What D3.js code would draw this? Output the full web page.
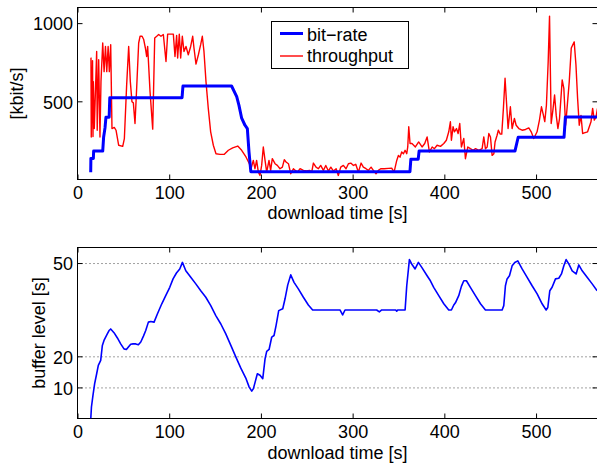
<!DOCTYPE html>
<html>
<head>
<meta charset="utf-8">
<script src="https://cdn.jsdelivr.net/npm/d3@7"></script>
<style>
  body { margin: 0; background: #fff; }
  svg text { font-family: "Liberation Sans", Arial, Helvetica, sans-serif; font-size: 18px; fill: #000; }
  .tk line { stroke: #000; }
  .tk path { display: none; }
  .grid line { stroke: #444; stroke-dasharray: 1,3; }
  .grid path { display: none; }
</style>
</head>
<body>
<svg id="chart" width="597" height="465"></svg>
<script>
// time axis shared by both panels
var xTicks = [0, 100, 200, 300, 400, 500];
var rateTicks = [500, 1000];
var bufTicks = [10, 20, 50];

// selected bit-rate [kbit/s]
var rateTime = [14.4, 14.6, 17.3, 17.6, 27.5, 28.5, 30, 31, 34.5, 35.2, 114, 115, 168, 173.6, 176, 179, 182.6, 185.2, 187, 189,
	362.5, 363.5, 371.5, 372.5, 477, 480.5, 530.5, 532, 567];
var rateKbps = [47, 135, 135, 182, 182, 272, 330, 398, 398, 523, 523, 598, 598, 530, 476, 392, 347, 326, 176, 50,
	50, 130, 130, 182, 182, 270, 270, 400, 400];

// measured throughput [kbit/s]
var tputTime = [14.4, 14.7, 15.0, 16.4, 16.9, 17.3, 18.3, 20.9, 21.5, 23.1, 24.5, 25.6, 27.5, 29.0, 30.5, 31.9, 33.4, 34.7, 36.2, 37.6,
	40.1, 42.0, 44.9, 49.3, 51.1, 53.6, 55.8, 57.6, 59.4, 60.9, 62.7, 64.5, 66.7, 68.2, 70.4, 72.2, 74.0, 75.4, 76.5, 79.1,
	82.0, 84.2, 86.4, 88.5, 91.0, 93.6, 96.5, 98.3, 101.9, 104.5, 106.3, 108.1, 109.2, 111.0, 112.5, 114.3, 116.1, 118.3, 120.8, 123.4,
	125.6, 127.0, 129.2, 131.8, 134.3, 136.1, 137.9, 140.1, 142.6, 145.2, 148.1, 151.0, 155.4, 160.1, 164.5, 169.2, 174.7, 179.0, 183.7, 187.4,
	189.2, 191.7, 193.5, 195.3, 197.2, 199.0, 200.8, 202.6, 204.5, 206.3, 208.8, 210.6, 212.4, 215.4, 217.9, 220.8, 223.4, 225.5, 227.4, 230.0,
	232.5, 235.4, 237.6, 239.8, 242.7, 246.3, 250.0, 252.9, 255.4, 257.2, 260.1, 262.7, 265.2, 268.1, 270.7, 273.6, 276.2, 279.1, 282.0, 284.4,
	287.0, 289.9, 292.8, 295.4, 298.0, 300.9, 303.4, 306.3, 309.2, 311.7, 314.6, 317.2, 320.1, 322.6, 325.5, 328.1, 330.6, 334.3, 339.0, 342.6,
	345.2, 348.1, 349.9, 351.7, 353.5, 355.4, 357.2, 359.0, 360.1, 361.2, 362.6, 364.7, 368.4, 372.0, 375.7, 378.6, 381.2, 383.7, 386.7, 389.2,
	392.1, 395.8, 399.4, 402.2, 404.8, 406.6, 407.7, 409.5, 411.0, 413.2, 415.0, 416.8, 418.6, 421.2, 423.0, 425.6, 428.4, 431.4, 434.0, 437.6,
	441.2, 443.0, 444.8, 446.7, 448.5, 450.3, 452.1, 454.0, 455.3, 457.5, 458.9, 461.0, 462.6, 464.4, 466.2, 467.3, 469.5, 472.0, 473.9, 476.4,
	478.3, 481.2, 484.8, 488.5, 492.1, 494.7, 497.5, 501.1, 503.7, 505.9, 507.7, 509.5, 511.3, 513.2, 514.7, 516.5, 518.3, 520.2, 522.0, 523.8,
	525.6, 528.5, 530.3, 532.2, 533.3, 536.2, 538.4, 541.6, 543.5, 545.3, 547.1, 549.0, 550.8, 552.6, 556.2, 559.9, 561.7, 563.5, 565.4, 567.0];
var tputKbps = [777, 777, 272, 760, 275, 626, 326, 819, 315, 766, 272, 626, 873, 690, 851, 690, 851, 690, 862, 326,
	333, 315, 219, 212, 262, 605, 851, 626, 497, 490, 358, 583, 873, 916, 916, 895, 841, 787, 851, 562,
	322, 905, 916, 927, 916, 927, 755, 930, 930, 930, 787, 922, 777, 930, 777, 916, 819, 851, 798, 851,
	916, 841, 738, 798, 862, 916, 819, 626, 455, 305, 219, 165, 161, 161, 187, 202, 214, 187, 144, 101,
	69, 122, 69, 122, 47, 26, 90, 208, 122, 47, 122, 58, 133, 101, 90, 69, 79, 127, 112, 101,
	37, 69, 58, 47, 69, 58, 54, 58, 47, 105, 79, 69, 90, 58, 90, 54, 79, 54, 69, 26,
	79, 90, 69, 101, 105, 90, 97, 47, 105, 79, 69, 58, 79, 58, 37, 58, 69, 69, 71, 73,
	47, 122, 154, 143, 176, 165, 187, 165, 208, 337, 230, 230, 208, 240, 208, 230, 272, 176, 208, 197,
	219, 212, 230, 251, 305, 369, 251, 337, 305, 326, 294, 358, 208, 262, 133, 208, 197, 187, 197, 187,
	197, 272, 197, 208, 294, 272, 154, 165, 240, 283, 315, 290, 290, 455, 648, 540, 326, 465, 326, 390,
	347, 326, 315, 320, 330, 305, 262, 305, 380, 465, 420, 370, 475, 750, 1045, 358, 440, 540, 410, 326,
	390, 637, 583, 347, 420, 626, 841, 880, 734, 519, 347, 410, 294, 298, 305, 369, 455, 380, 401, 455];

// buffer level [s]
var bufTime = [14.5, 15.2, 16.9, 18.7, 20.9, 22.7, 25.3, 27.1, 28.9, 30.7, 32.5, 34.4, 36.2, 39.8, 43.5, 47.1, 50.7, 53.3, 55.5, 58.0,
	60.6, 63.5, 66.4, 69.0, 71.9, 74.4, 77.3, 79.9, 83.5, 87.2, 91.9, 96.2, 100.6, 104.2, 107.9, 111.5, 114.4, 118.1, 123.5, 129.0,
	134.4, 139.9, 145.3, 150.8, 156.3, 161.7, 167.2, 172.6, 178.1, 183.5, 187.2, 190.0, 191.8, 196.1, 199.0, 202.0, 204.5, 206.3, 208.9, 211.8,
	214.3, 216.5, 219.4, 223.8, 226.3, 229.2, 232.5, 236.1, 240.8, 246.3, 251.7, 256.4, 286.2, 289.1, 291.7, 326.2, 329.1, 331.7, 347.0, 348.1,
	349.1, 357.2, 359.0, 361.9, 364.4, 368.1, 371.7, 375.4, 381.2, 384.8, 388.4, 393.9, 399.4, 404.8, 407.7, 410.3, 412.1, 415.7, 418.6, 421.2,
	424.1, 428.4, 433.9, 439.4, 444.8, 463.0, 464.8, 466.6, 468.4, 471.0, 473.9, 476.8, 480.1, 484.8, 490.3, 495.7, 501.2, 506.6, 511.0, 512.8,
	515.0, 517.5, 521.2, 524.8, 527.7, 530.3, 532.8, 535.7, 539.4, 543.7, 546.6, 550.3, 555.7, 561.2, 566.6];
var bufSec = [0, 3.7, 7.5, 11.2, 14.4, 17.1, 18.7, 23.5, 25.1, 26.2, 27.2, 28.3, 28.8, 27.6, 25.9, 24.0, 22.4, 22.2, 23.0, 23.9,
	24.0, 24.0, 23.7, 24.6, 26.5, 28.3, 31.0, 31.2, 31.0, 33.7, 36.9, 39.5, 42.2, 44.9, 46.8, 48.1, 50.2, 47.5, 45.4, 43.3,
	41.1, 39.0, 36.3, 33.1, 30.4, 27.2, 23.5, 19.8, 16.2, 13.0, 10.1, 8.8, 9.6, 14.4, 13.9, 12.8, 19.2, 21.6, 22.2, 26.2,
	26.7, 29.9, 34.7, 35.3, 38.5, 42.9, 46.2, 43.8, 41.7, 39.0, 36.5, 34.9, 34.9, 33.3, 34.9, 34.9, 34.3, 34.9, 34.9, 34.5,
	34.9, 34.9, 42.7, 51.1, 49.7, 48.1, 50.2, 48.6, 45.9, 44.3, 42.2, 39.5, 36.9, 34.9, 34.9, 36.5, 37.2, 39.5, 42.5, 44.3,
	44.3, 42.2, 39.5, 36.9, 34.9, 34.9, 36.3, 42.7, 44.9, 45.9, 49.1, 50.2, 50.7, 48.1, 45.4, 42.7, 40.1, 36.9, 34.9, 35.7,
	41.1, 42.2, 44.9, 45.1, 46.5, 49.1, 51.1, 49.7, 47.5, 46.5, 49.4, 47.5, 45.4, 43.3, 41.1];

var svg = d3.select("#chart");
var left = 77.5, right = 597.5;

var x = d3.scaleLinear().domain([0, 567]).range([left, right]);
var yTop = d3.scaleLinear().domain([0, 1100]).range([179.5, 7.5]);
var yBot = d3.scaleLinear().domain([0, 55]).range([418.5, 247.5]);

function zip(a, b){
	return a.map(function(d, i){ return [d, b[i]]; });
}

// matlab style box: ticks inwards on all four sides
function drawPanel(y, yTicks, id){
	var y0 = y.range()[0], y1 = y.range()[1];
	var g = svg.append("g");

	svg.append("clipPath").attr("id", id).append("rect")
		.attr("x", left).attr("y", y1).attr("width", right - left).attr("height", y0 - y1);

	g.append("g").attr("class", "tk").attr("transform", "translate(0," + y0 + ")")
		.call(d3.axisBottom(x).tickValues(xTicks).tickSizeInner(-5).tickSizeOuter(0).tickPadding(7).tickFormat(d3.format("d")));
	g.append("g").attr("class", "tk").attr("transform", "translate(0," + y1 + ")")
		.call(d3.axisTop(x).tickValues(xTicks).tickSizeInner(-5).tickSizeOuter(0).tickFormat(""));
	g.append("g").attr("class", "tk").attr("transform", "translate(" + left + ",0)")
		.call(d3.axisLeft(y).tickValues(yTicks).tickSizeInner(-5).tickSizeOuter(0).tickPadding(4.5).tickFormat(d3.format("d")))
		.selectAll("text").attr("dy", "0.38em");
	g.append("g").attr("class", "tk").attr("transform", "translate(" + right + ",0)")
		.call(d3.axisRight(y).tickValues(yTicks).tickSizeInner(-5).tickSizeOuter(0).tickFormat(""));

	// let the css font win over the axis defaults
	g.selectAll(".tk").attr("font-size", null).attr("font-family", null);

	g.append("rect")
		.attr("x", left).attr("y", y1)
		.attr("width", right - left).attr("height", y0 - y1)
		.attr("fill", "none").attr("stroke", "#000").attr("stroke-width", 1);
	return g;
}

// ---- top panel: bit-rate and throughput
drawPanel(yTop, rateTicks, "clipTop");

var lineTop = d3.line().x(function(d){ return x(d[0]); }).y(function(d){ return yTop(d[1]); });

svg.append("path").datum(zip(tputTime, tputKbps))
	.attr("clip-path", "url(#clipTop)")
	.attr("d", lineTop)
	.attr("fill", "none").attr("stroke", "#ff0000").attr("stroke-width", 1.4).attr("stroke-linejoin", "round");

svg.append("path").datum(zip(rateTime, rateKbps))
	.attr("clip-path", "url(#clipTop)")
	.attr("d", lineTop)
	.attr("fill", "none").attr("stroke", "#0000ff").attr("stroke-width", 3).attr("stroke-linejoin", "round");

svg.append("text").attr("x", 337.5).attr("y", 219).attr("text-anchor", "middle").text("download time [s]");
svg.append("text").attr("transform", "translate(23,93.5) rotate(-90)").attr("text-anchor", "middle").text("[kbit/s]");

// legend
var leg = svg.append("g");
leg.append("rect").attr("x", 271.5).attr("y", 21.5).attr("width", 137).attr("height", 47)
	.attr("fill", "#fff").attr("stroke", "#000").attr("stroke-width", 1);
leg.append("line").attr("x1", 280).attr("x2", 303).attr("y1", 33.5).attr("y2", 33.5)
	.attr("stroke", "#0000ff").attr("stroke-width", 3);
leg.append("line").attr("x1", 280).attr("x2", 303).attr("y1", 56).attr("y2", 56)
	.attr("stroke", "#ff0000").attr("stroke-width", 1.4);
leg.append("text").attr("x", 307).attr("y", 41).text("bit\u2212rate");
leg.append("text").attr("x", 307).attr("y", 62).text("throughput");

// ---- bottom panel: buffer level
svg.append("g").attr("class", "grid").attr("transform", "translate(" + left + ",0)")
	.call(d3.axisRight(yBot).tickValues(bufTicks).tickSize(right - left).tickFormat(""));

drawPanel(yBot, bufTicks, "clipBot");

svg.append("path").datum(zip(bufTime, bufSec))
	.attr("clip-path", "url(#clipBot)")
	.attr("d", d3.line().x(function(d){ return x(d[0]); }).y(function(d){ return yBot(d[1]); }))
	.attr("fill", "none").attr("stroke", "#0000ff").attr("stroke-width", 1.6).attr("stroke-linejoin", "round");

svg.append("text").attr("x", 337.5).attr("y", 458.5).attr("text-anchor", "middle").text("download time [s]");
svg.append("text").attr("transform", "translate(45,333) rotate(-90)").attr("text-anchor", "middle").text("buffer level [s]");
</script>
</body>
</html>
